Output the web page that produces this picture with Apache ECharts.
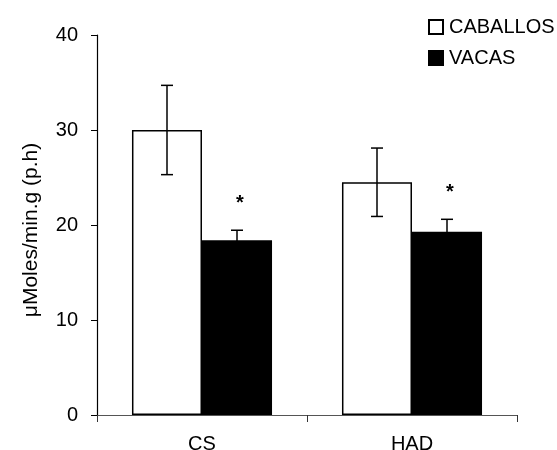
<!DOCTYPE html>
<html>
<head>
<meta charset="utf-8">
<script src="https://cdn.jsdelivr.net/npm/echarts@6/dist/echarts.min.js"></script>
<style>
html,body{margin:0;padding:0;background:#fff;}
#chart{width:557px;height:450px;}
</style>
</head>
<body>
<div id="chart"></div>
<script>
const categories = ['CS', 'HAD'];
const seriesNames = ['CABALLOS', 'VACAS'];
const caballos = [30.0, 24.5];
const caballosErr = [4.7, 3.6];
const vacas = [18.4, 19.3];
const vacasErr = [1.05, 1.3];
const significance = ['', '*'];
const yTicks = { min: 0, max: 40, interval: 10 };

const chart = echarts.init(document.getElementById('chart'));
const FONT = 'Liberation Sans, Arial, sans-serif';

function errorData(vals, errs) {
  return vals.map((v, i) => [i, v, errs[i]]);
}

function makeErrorRenderer(side, star) {
  return function (params, api) {
    const idx = api.value(0);
    const v = api.value(1);
    const e = api.value(2);
    const band = api.size([1, 0])[0];
    const off = side * band / 6;
    const top = api.coord([idx, v + e]);
    const bot = api.coord([idx, v - e]);
    const x = top[0] + off;
    const cap = 6;
    const style = { stroke: '#000', lineWidth: 1.5 };
    const children = [
      { type: 'line', shape: { x1: x, y1: top[1], x2: x, y2: bot[1] }, style: style },
      { type: 'line', shape: { x1: x - cap, y1: top[1], x2: x + cap, y2: top[1] }, style: style },
      { type: 'line', shape: { x1: x - cap, y1: bot[1], x2: x + cap, y2: bot[1] }, style: style }
    ];
    if (star) {
      children.push({
        type: 'text',
        style: {
          text: star, x: x + 3, y: top[1] - 27, align: 'center', verticalAlign: 'middle',
          fill: '#000', font: 'bold 20px ' + FONT
        }
      });
    }
    return { type: 'group', children: children };
  };
}

chart.setOption({
  animation: false,
  backgroundColor: '#fff',
  textStyle: { fontFamily: FONT },
  legend: {
    orient: 'vertical',
    left: 423,
    top: 12,
    itemWidth: 14,
    itemHeight: 14,
    itemGap: 11,
    icon: 'rect',
    textStyle: { fontSize: 20, color: '#000', padding: [0, 0, 0, 1] },
    data: seriesNames
  },
  grid: { left: 97, right: 40, top: 35, bottom: 35, containLabel: false, outerBoundsMode: 'none' },
  xAxis: {
    type: 'category',
    data: categories,
    axisLine: { lineStyle: { color: '#555', width: 1.2 } },
    axisTick: { show: true, length: 7, lineStyle: { color: '#333' } },
    axisLabel: { color: '#000', fontSize: 20, margin: 19 },
    splitLine: { show: false }
  },
  yAxis: {
    type: 'value',
    min: yTicks.min, max: yTicks.max, interval: yTicks.interval,
    name: 'μMoles/min.g (p.h)',
    nameLocation: 'middle',
    nameGap: 55,
    nameTextStyle: { fontSize: 21, color: '#000', padding: [0, 10, 0, 0] },
    axisLine: { show: true, lineStyle: { color: '#000', width: 1.2 } },
    axisTick: { show: true, length: 6, lineStyle: { color: '#000' } },
    axisLabel: { color: '#000', fontSize: 20, margin: 19 },
    splitLine: { show: false }
  },
  series: [
    {
      name: seriesNames[0], type: 'bar', data: caballos,
      barGap: '0%', barCategoryGap: '33.3%',
      itemStyle: { color: '#fff', borderColor: '#000', borderWidth: 1.5 }
    },
    {
      name: seriesNames[1], type: 'bar', data: vacas,
      itemStyle: { color: '#000', borderColor: '#000', borderWidth: 1.5 }
    },
    {
      type: 'custom', name: 'errC', data: errorData(caballos, caballosErr),
      renderItem: makeErrorRenderer(-1, significance[0]), z: 5, silent: true
    },
    {
      type: 'custom', name: 'errV', data: errorData(vacas, vacasErr),
      renderItem: makeErrorRenderer(1, significance[1]), z: 5, silent: true
    }
  ]
});
</script>
</body>
</html>
